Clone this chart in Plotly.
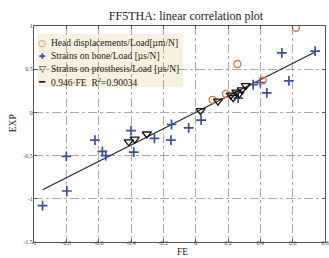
import plotly.graph_objects as go

# ---- data ----
head_fe = [0.105, 0.187, 0.258, 0.415, 0.62]
head_exp = [0.145, 0.215, 0.56, 0.37, 0.98]

bone_fe = [-0.947, -0.80, -0.797, -0.623, -0.577, -0.556, -0.40, -0.383, -0.255,
           -0.149, -0.153, -0.043, 0.034, 0.263, 0.356, 0.40, 0.44, 0.533, 0.577, 0.739]
bone_exp = [-1.08, -0.51, -0.91, -0.32, -0.45, -0.50, -0.21, -0.46, -0.30,
            -0.14, -0.32, -0.18, -0.09, 0.165, 0.32, 0.345, 0.225, 0.69, 0.365, 0.71]

pros_fe = [-0.414, -0.377, -0.302, 0.03, 0.138, 0.217, 0.232, 0.252, 0.27, 0.285, 0.31]
pros_exp = [-0.34, -0.31, -0.25, 0.02, 0.13, 0.20, 0.17, 0.235, 0.215, 0.26, 0.31]

slope = 0.946
r2 = 0.90034

series_names = ["Head displacements/Load[µm/N]",
                "Strains on bone/Load [µs/N]",
                "Strains on prosthesis/Load [µs/N]",
                "%.3f·FE  R<sup>2</sup>=%.5f" % (slope, r2)]

x_ticks = [-1, -0.8, -0.6, -0.4, -0.2, 0, 0.2, 0.4, 0.6, 0.8]
x_tick_labels = ["-1", "-0.8", "-0.6", "-0.4", "-0.2", "0", "0.2", "0.4", "0.6", "0.8"]
y_ticks = [-1.5, -1, -0.5, 0, 0.5, 1]
y_tick_labels = ["-1.5", "-1", "-0.5", "0", "0.5", "1"]

ORANGE = "#e0703c"
BLUE = "#3c4fa8"
SERIF = "Liberation Serif"

all_fe = head_fe + bone_fe + pros_fe
line_x = [min(all_fe), max(all_fe)]
line_y = [slope * v for v in line_x]

fig = go.Figure()
fig.add_trace(go.Scatter(x=line_x, y=line_y, mode="lines",
                         line=dict(color="#222222", width=1.1), showlegend=False))
fig.add_trace(go.Scatter(x=bone_fe, y=bone_exp, mode="markers",
                         marker=dict(symbol="cross-thin", size=7, color=BLUE,
                                     line=dict(color=BLUE, width=1.7)),
                         showlegend=False))
fig.add_trace(go.Scatter(x=head_fe, y=head_exp, mode="markers",
                         marker=dict(symbol="circle-open", size=7, color=ORANGE,
                                     line=dict(color=ORANGE, width=1.3)),
                         showlegend=False))
fig.add_trace(go.Scatter(x=pros_fe, y=pros_exp, mode="markers",
                         marker=dict(symbol="triangle-down-open", size=8, color="#111111",
                                     line=dict(color="#111111", width=1.3)),
                         showlegend=False))

axis_common = dict(showline=True, linecolor="#555555", linewidth=1, mirror="allticks",
                   ticks="inside", ticklen=3, tickcolor="#555555",
                   showgrid=True, gridcolor="#aaaaaa", griddash="dashdot", gridwidth=0.8,
                   zeroline=False, ticklabeloverflow="allow",
                   tickfont=dict(family=SERIF, size=6, color="#444444"))

fig.update_xaxes(range=[-1, 0.8], tickvals=x_ticks, ticktext=x_tick_labels,
                 ticklabelstandoff=-5, **axis_common)
fig.update_yaxes(range=[-1.5, 1], tickvals=y_ticks, ticktext=y_tick_labels,
                 ticklabelstandoff=-1, **axis_common)

# manual legend
fig.add_shape(type="rect", xref="paper", yref="paper", x0=0.0136, x1=0.512, y0=0.718, y1=0.963,
              fillcolor="#f8f1dd", line=dict(width=0), layer="below")
sym_text = ["○", "✚", "▽", "━"]
sym_col = [ORANGE, BLUE, "#111111", "#111111"]
sym_size = [9, 8, 9, 10]
rows_y = [0.920, 0.861, 0.803, 0.743]
for i in range(4):
    fig.add_annotation(xref="paper", yref="paper", x=0.028, y=rows_y[i], text=sym_text[i],
                       showarrow=False, xanchor="center", yanchor="middle",
                       font=dict(family="DejaVu Sans", size=sym_size[i], color=sym_col[i]))
    fig.add_annotation(xref="paper", yref="paper", x=0.05, y=rows_y[i], text=series_names[i],
                       showarrow=False, xanchor="left", yanchor="middle",
                       font=dict(family=SERIF, size=9.5, color="#222222"))

# axis titles
fig.add_annotation(xref="paper", yref="paper", x=(185 - 34) / 295, y=-(252 - 242) / 216,
                   text="FE", showarrow=False, xanchor="center", yanchor="middle",
                   font=dict(family=SERIF, size=9.5, color="#222222"))
fig.add_annotation(xref="paper", yref="paper", x=-(34 - 13) / 295, y=(242 - 123) / 216,
                   text="EXP", showarrow=False, textangle=-90, xanchor="center", yanchor="middle",
                   font=dict(family=SERIF, size=9.5, color="#222222"))

fig.update_layout(
    width=329, height=258,
    margin=dict(l=34, r=0, t=26, b=16),
    paper_bgcolor="white", plot_bgcolor="white",
    title=dict(text="FF5THA: linear correlation plot", x=186 / 329, xanchor="center",
               y=1 - 16 / 258, yanchor="middle", yref="container",
               font=dict(family=SERIF, size=12, color="#222222")),
    showlegend=False,
)

fig.write_html("out.html", config={"displayModeBar": False},
               post_script="document.body.style.margin='0';")
